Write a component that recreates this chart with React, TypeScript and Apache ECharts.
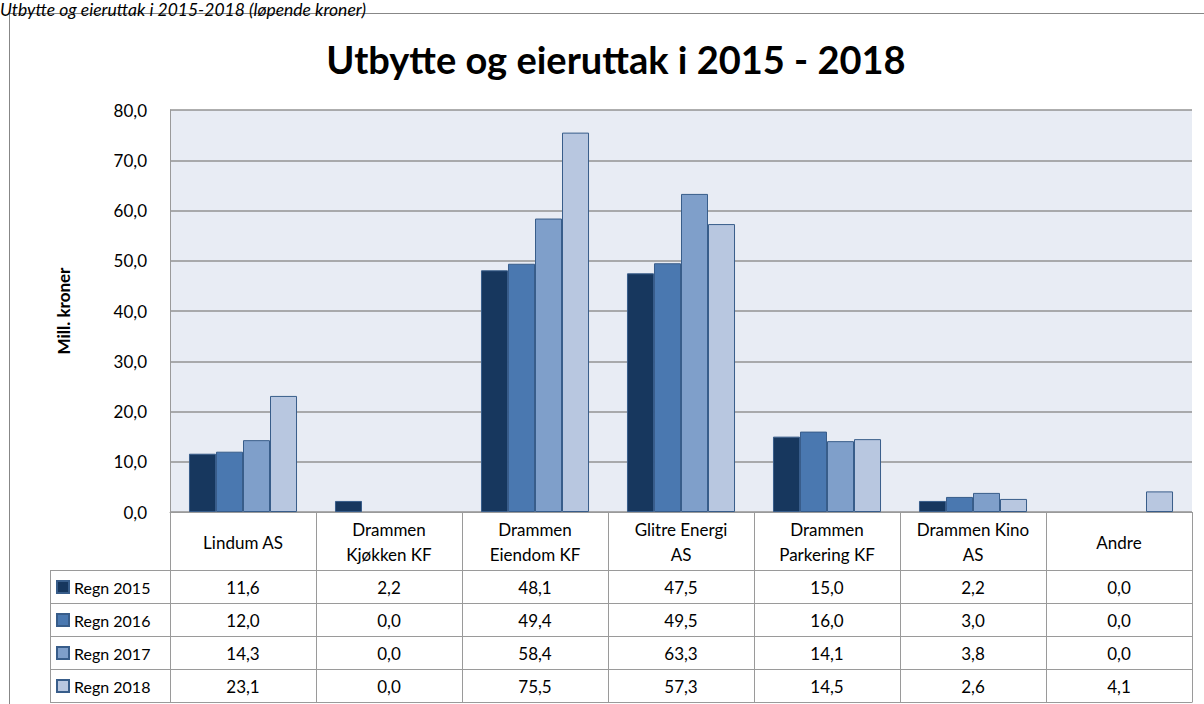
import React, { useEffect, useRef } from 'react';
import * as echarts from 'echarts';

const categories = [
  'Lindum AS',
  'Drammen\nKjøkken KF',
  'Drammen\nEiendom KF',
  'Glitre Energi\nAS',
  'Drammen\nParkering KF',
  'Drammen Kino\nAS',
  'Andre',
];
const seriesNames = ['Regn 2015', 'Regn 2016', 'Regn 2017', 'Regn 2018'];
const regn2015 = [11.6, 2.2, 48.1, 47.5, 15.0, 2.2, 0.0];
const regn2016 = [12.0, 0.0, 49.4, 49.5, 16.0, 3.0, 0.0];
const regn2017 = [14.3, 0.0, 58.4, 63.3, 14.1, 3.8, 0.0];
const regn2018 = [23.1, 0.0, 75.5, 57.3, 14.5, 2.6, 4.1];
const yMin = 0;
const yMax = 80;
const yStep = 10;

const seriesValues = [regn2015, regn2016, regn2017, regn2018];
const colors = ['#17375E', '#4A78B0', '#7F9FCA', '#B8C7E0'];

const fmt = (v: number) => v.toFixed(1).replace('.', ',');

export default function App() {
  const ref = useRef<HTMLDivElement>(null);
  useEffect(() => {
    const chart = echarts.init(ref.current!, null, { renderer: 'svg' });
    const FONT = 'Lato, Carlito, Calibri, sans-serif';
    const gridLeft = 170;
    const gridRightPx = 1192;
    const gridTop = 110;
    const zeroY = 512;
    const rowTop = 570.5;
    const rowH = 33;
    const tableBottom = rowTop + rowH * seriesNames.length;
    const lineColor = '#9a9a9a';

    const option: any = {
      animation: false,
      backgroundColor: '#ffffff',
      textStyle: { fontFamily: FONT },
      grid: {
        left: gridLeft,
        right: 1204 - gridRightPx,
        top: gridTop,
        bottom: 704 - zeroY,
        show: true,
        backgroundColor: '#E8ECF4',
        borderWidth: 0,
      },
      legend: {
        orient: 'vertical',
        left: 56,
        top: rowTop,
        padding: 0,
        itemGap: 0,
        itemWidth: 12,
        itemHeight: 12,
        icon: 'rect',
        selectedMode: false,
        data: seriesNames,
        textStyle: { fontFamily: FONT, fontSize: 16, color: '#000', lineHeight: rowH },
      },
      xAxis: {
        type: 'category',
        data: categories,
        axisLine: { show: true, lineStyle: { color: lineColor, width: 1 } },
        axisTick: {
          show: true,
          interval: 0,
          length: tableBottom - zeroY,
          lineStyle: { color: lineColor, width: 1 },
        },
        axisLabel: {
          interval: 0,
          margin: 30,
          verticalAlign: 'middle',
          lineHeight: 25,
          fontSize: 17,
          color: '#000',
          fontFamily: FONT,
        },
      },
      yAxis: {
        type: 'value',
        min: yMin,
        max: yMax,
        interval: yStep,
        name: 'Mill. kroner',
        nameLocation: 'middle',
        nameGap: 98,
        nameTextStyle: { fontFamily: FONT, fontSize: 17, fontWeight: 'bold', color: '#000' },
        axisLine: { show: true, lineStyle: { color: lineColor, width: 1 } },
        axisTick: { show: false },
        splitLine: { show: true, lineStyle: { color: '#939393', width: 1.5 } },
        axisLabel: {
          margin: 23,
          fontSize: 17,
          color: '#000',
          fontFamily: FONT,
          formatter: (v: number) => fmt(v),
        },
      },
      series: seriesNames.map((name, i) => ({
        name,
        type: 'bar',
        barGap: '0%',
        barCategoryGap: '26%',
        data: seriesValues[i].map((v) => (v === 0 ? '-' : v)),
        itemStyle: { color: colors[i], borderColor: '#385D8A', borderWidth: 1 },
      })),
    };
    chart.setOption(option);

    const graphics: any[] = [];
    graphics.push({
      type: 'rect',
      z: -10,
      shape: { x: 9.5, y: 13.5, width: 1300, height: 800 },
      style: { fill: 'none', stroke: '#878787', lineWidth: 1 },
      silent: true,
    });
    graphics.push({
      type: 'text',
      x: 0,
      y: 0,
      style: {
        text: 'Utbytte og eieruttak i 2015-2018 (løpende kroner)',
        fontFamily: FONT,
        fontStyle: 'italic',
        fontSize: 17.5,
        fill: '#000',
        textAlign: 'left',
        textVerticalAlign: 'top',
      },
    });
    graphics.push({
      type: 'text',
      x: 616,
      y: 59,
      style: {
        text: 'Utbytte og eieruttak i 2015 - 2018',
        fontFamily: FONT,
        fontWeight: 'bold',
        fontSize: 38,
        fill: '#000',
        textAlign: 'center',
        textVerticalAlign: 'middle',
      },
    });
    for (let r = 0; r <= seriesNames.length; r++) {
      const y = rowTop + r * rowH;
      graphics.push({
        type: 'line',
        shape: { x1: 50, y1: y, x2: gridRightPx, y2: y },
        style: { stroke: lineColor, lineWidth: 1 },
        silent: true,
      });
    }
    graphics.push({
      type: 'line',
      shape: { x1: 50.5, y1: rowTop, x2: 50.5, y2: tableBottom },
      style: { stroke: lineColor, lineWidth: 1 },
      silent: true,
    });
    seriesValues.forEach((arr, r) => {
      arr.forEach((v, c) => {
        const x = chart.convertToPixel({ xAxisIndex: 0 }, c) as number;
        graphics.push({
          type: 'text',
          x,
          y: rowTop + r * rowH + rowH / 2,
          style: {
            text: fmt(v),
            fontFamily: FONT,
            fontSize: 17,
            fill: '#000',
            textAlign: 'center',
            textVerticalAlign: 'middle',
          },
        });
      });
    });
    chart.setOption({ graphic: graphics });

    return () => chart.dispose();
  }, []);
  return (
    <div
      ref={ref}
      style={{ position: 'fixed', left: 0, top: 0, width: 1204, height: 704, background: '#fff' }}
    />
  );
}
